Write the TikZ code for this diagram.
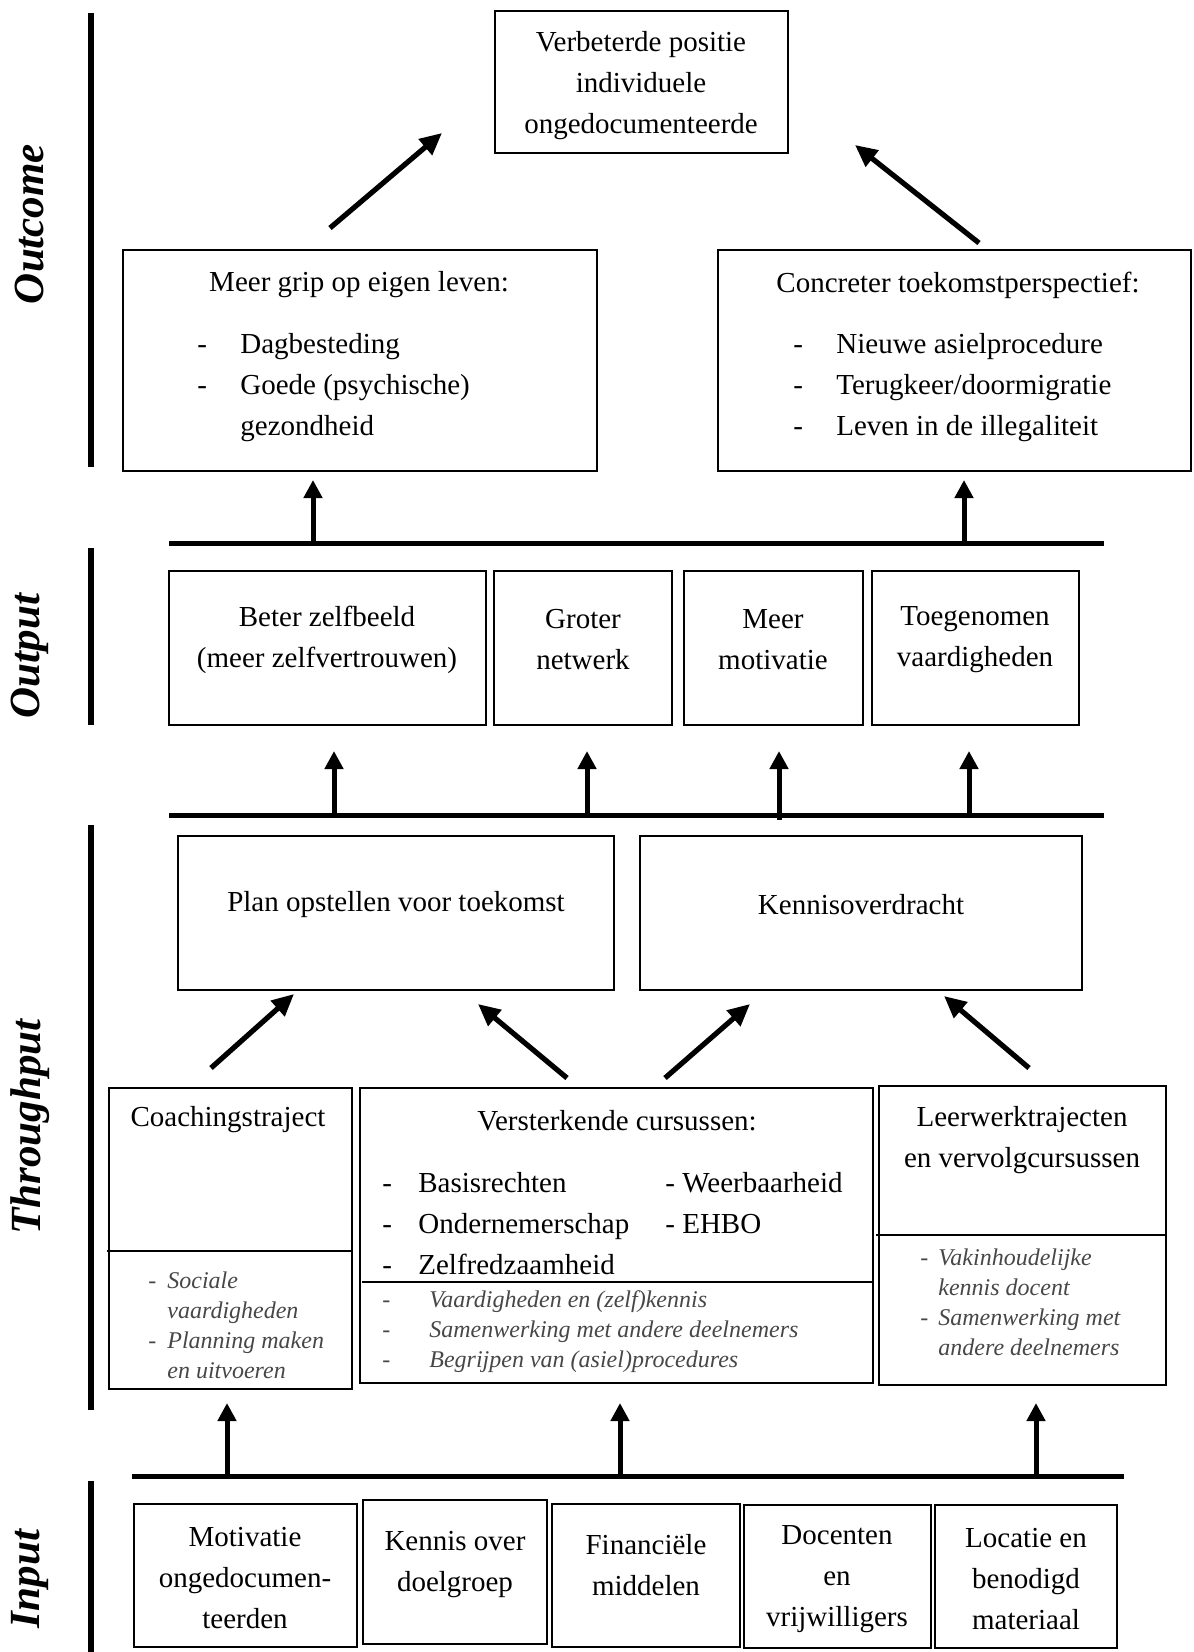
\documentclass[tikz,border=0pt]{standalone}
\usepackage{fontspec}
\setmainfont{Liberation Serif}
\usetikzlibrary{fit,arrows.meta}
\tikzset{
  box/.style={draw, line width=1.3pt, inner sep=0pt},
  txt/.style={font=\fontsize{14.5}{20.5}\selectfont, align=center, inner sep=0pt},
  itl/.style={font=\fontsize{12}{15}\selectfont\itshape, text=black!72, align=left, inner sep=0pt},
  lab/.style={font=\fontsize{21.5}{26}\selectfont\bfseries\itshape, rotate=90, inner sep=0pt},
  vbar/.style={line width=3pt},
  hbar/.style={line width=2.5pt},
  divline/.style={line width=1.2pt},
  arr/.style={line width=2.5pt, -{Triangle[length=9pt,width=9pt]}},
  darr/.style={line width=2.6pt, -{Triangle[length=11pt,width=10pt]}}
}
\begin{document}
\begin{tikzpicture}[x=0.5pt,y=-0.5pt]
\path[use as bounding box] (0,0) rectangle (1193,1652);

% ---- side labels and bars
\node[lab] (lOut) at (30,224) {Outcome};
\node[lab] (lOutp) at (30,656) {Output};
\node[lab] (lThr) at (30,1127) {Throughput};
\node[lab] (lIn) at (30,1579) {Input};
\coordinate (b1a) at (91,13);   \coordinate (b1b) at (91,467);
\coordinate (b2a) at (91,548);  \coordinate (b2b) at (91,725);
\coordinate (b3a) at (91,825);  \coordinate (b3b) at (91,1410);
\coordinate (b4a) at (91,1481); \coordinate (b4b) at (91,1652);
\draw[vbar] (b1a) -- (b1b);
\draw[vbar] (b2a) -- (b2b);
\draw[vbar] (b3a) -- (b3b);
\draw[vbar] (b4a) -- (b4b);

% ---- outcome
\node[box, fit={(495,11)(788,153)}] (top) {};
\node[txt] (topT) at (641,86) {Verbeterde positie\\individuele\\ongedocumenteerde};

\node[box, fit={(123,250)(597,471)}] (grip) {};
\node[txt] (gripT) at (359,285) {Meer grip op eigen leven:};
\node[txt, align=left, anchor=west] (gripL) at (197,388)
  {\makebox[21.5pt][l]{-}Dagbesteding\\\makebox[21.5pt][l]{-}Goede (psychische)\\\makebox[21.5pt][l]{}gezondheid};

\node[box, fit={(718,250)(1191,471)}] (toek) {};
\node[txt] (toekT) at (958,285) {Concreter toekomstperspectief:};
\node[txt, align=left, anchor=west] (toekL) at (793,388)
  {\makebox[21.5pt][l]{-}Nieuwe asielprocedure\\\makebox[21.5pt][l]{-}Terugkeer/doormigratie\\\makebox[21.5pt][l]{-}Leven in de illegaliteit};

\coordinate (d1s) at (330,228); \coordinate (d1e) at (442,133);
\coordinate (d2s) at (979,243); \coordinate (d2e) at (855,145);
\draw[darr] (d1s) -- (d1e);
\draw[darr] (d2s) -- (d2e);

% ---- line between output and outcome
\coordinate (h1a) at (169,543); \coordinate (h1b) at (1104,543);
\draw[hbar] (h1a) -- (h1b);
\coordinate (u1s) at (313,543); \coordinate (u1e) at (313,480);
\coordinate (u2s) at (964,543); \coordinate (u2e) at (964,480);
\draw[arr] (u1s) -- (u1e);
\draw[arr] (u2s) -- (u2e);

% ---- output boxes
\node[box, fit={(169,571)(486,725)}] (o1) {};
\node[box, fit={(494,571)(672,725)}] (o2) {};
\node[box, fit={(684,571)(863,725)}] (o3) {};
\node[box, fit={(872,571)(1079,725)}] (o4) {};
\node[txt] (o1T) at (327,640) {Beter zelfbeeld\\(meer zelfvertrouwen)};
\node[txt] (o2T) at (583,640) {Groter\\netwerk};
\node[txt] (o3T) at (773,640) {Meer\\motivatie};
\node[txt] (o4T) at (975,640) {Toegenomen\\vaardigheden};

% ---- line between throughput and output
\coordinate (h2a) at (169,815); \coordinate (h2b) at (1104,815);
\draw[hbar] (h2a) -- (h2b);
\coordinate (v1s) at (334,815); \coordinate (v1e) at (334,751);
\coordinate (v2s) at (587,815); \coordinate (v2e) at (587,751);
\coordinate (v3s) at (779,820); \coordinate (v3e) at (779,751);
\coordinate (v4s) at (969,815); \coordinate (v4e) at (969,751);
\draw[arr] (v1s) -- (v1e);
\draw[arr] (v2s) -- (v2e);
\draw[arr] (v3s) -- (v3e);
\draw[arr] (v4s) -- (v4e);

% ---- throughput upper boxes
\node[box, fit={(178,836)(614,990)}] (plan) {};
\node[box, fit={(640,836)(1082,990)}] (kenn) {};
\node[txt] (planT) at (396,905) {Plan opstellen voor toekomst};
\node[txt] (kennT) at (861,905) {Kennisoverdracht};

\coordinate (t1s) at (211,1068); \coordinate (t1e) at (294,994);
\coordinate (t2s) at (567,1078); \coordinate (t2e) at (478,1004);
\coordinate (t3s) at (665,1078); \coordinate (t3e) at (750,1004);
\coordinate (t4s) at (1029,1068); \coordinate (t4e) at (944,996);
\draw[darr] (t1s) -- (t1e);
\draw[darr] (t2s) -- (t2e);
\draw[darr] (t3s) -- (t3e);
\draw[darr] (t4s) -- (t4e);

% ---- throughput lower boxes
\node[box, fit={(109,1088)(352,1389)}] (coach) {};
\draw[divline] (107,1251) -- (352,1251);
\node[txt] (coachT) at (228,1120) {Coachingstraject};
\node[itl, anchor=west] (coachL) at (148,1325)
  {\makebox[9.5pt][l]{-}Sociale\\\makebox[9.5pt][l]{}vaardigheden\\\makebox[9.5pt][l]{-}Planning maken\\\makebox[9.5pt][l]{}en uitvoeren};

\node[box, fit={(360,1088)(873,1383)}] (vers) {};
\draw[divline] (362,1282) -- (873,1282);
\node[txt] (versT) at (617,1121) {Versterkende cursussen:};
\node[txt, align=left, anchor=west] (versL) at (382,1224)
  {\makebox[18pt][l]{-}Basisrechten\\\makebox[18pt][l]{-}Ondernemerschap\\\makebox[18pt][l]{-}Zelfredzaamheid};
\node[txt, align=left, anchor=west] (versR) at (665,1203.5)
  {- Weerbaarheid\\- EHBO};
\node[itl, anchor=west] (versI) at (382,1332)
  {\makebox[23.5pt][l]{-}Vaardigheden en (zelf)kennis\\\makebox[23.5pt][l]{-}Samenwerking met andere deelnemers\\\makebox[23.5pt][l]{-}Begrijpen van (asiel)procedures};

\node[box, fit={(879,1086)(1166,1385)}] (leer) {};
\draw[divline] (876,1235) -- (1166,1235);
\node[txt] (leerT) at (1022,1140) {Leerwerktrajecten\\en vervolgcursussen};
\node[itl, anchor=west] (leerL) at (920,1302)
  {\makebox[9pt][l]{-}Vakinhoudelijke\\\makebox[9pt][l]{}kennis docent\\\makebox[9pt][l]{-}Samenwerking met\\\makebox[9pt][l]{}andere deelnemers};

% ---- line between input and throughput
\coordinate (h3a) at (132,1476); \coordinate (h3b) at (1124,1476);
\draw[hbar] (h3a) -- (h3b);
\coordinate (w1s) at (227,1476); \coordinate (w1e) at (227,1403);
\coordinate (w2s) at (620,1476); \coordinate (w2e) at (620,1403);
\coordinate (w3s) at (1036,1476); \coordinate (w3e) at (1036,1403);
\draw[arr] (w1s) -- (w1e);
\draw[arr] (w2s) -- (w2e);
\draw[arr] (w3s) -- (w3e);

% ---- input boxes
\node[box, fit={(134,1504)(357,1647)}] (i1) {};
\node[box, fit={(363,1500)(547,1644)}] (i2) {};
\node[box, fit={(552,1504)(740,1647)}] (i3) {};
\node[box, fit={(744,1505)(931,1648)}] (i4) {};
\node[box, fit={(935,1505)(1117,1648)}] (i5) {};
\node[txt] (i1T) at (245,1578) {Motivatie\\ongedocumen-\\teerden};
\node[txt] (i2T) at (455,1565) {Kennis over\\doelgroep};
\node[txt] (i3T) at (646,1565) {Financiële\\middelen};
\node[txt] (i4T) at (837,1579) {Docenten\\en\\vrijwilligers};
\node[txt] (i5T) at (1026,1579) {Locatie en\\benodigd\\materiaal};
\end{tikzpicture}
\end{document}
